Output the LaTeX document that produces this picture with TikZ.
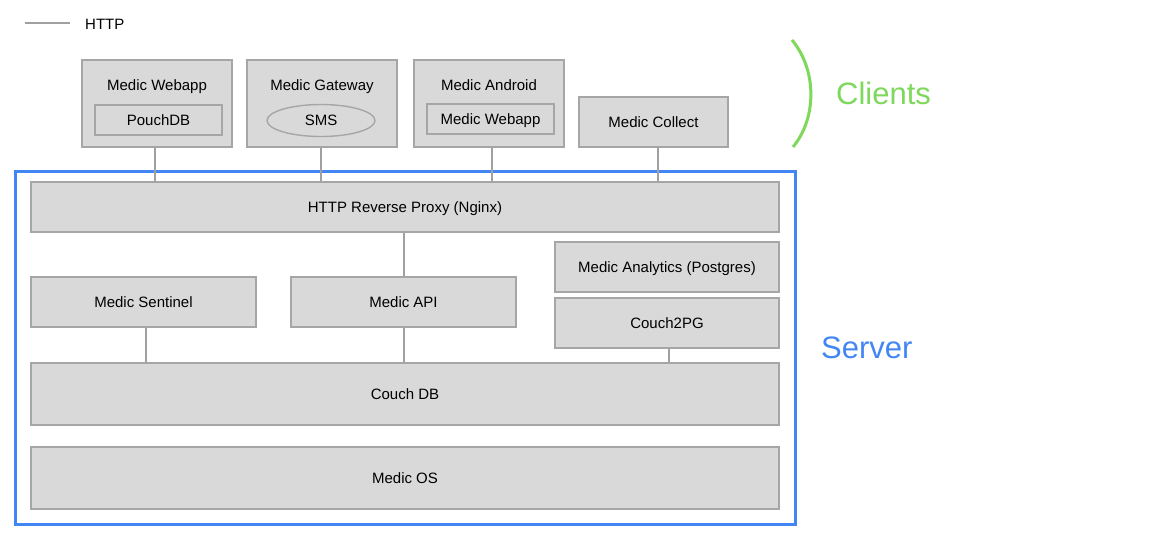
\documentclass[tikz,border=0pt]{standalone}
\usepackage{fontspec}
\setmainfont{Liberation Sans}
\usetikzlibrary{shapes.geometric}
\definecolor{boxfill}{RGB}{217,217,217}
\definecolor{boxline}{RGB}{166,166,166}
\definecolor{conn}{RGB}{160,160,160}
\definecolor{srvblue}{RGB}{66,133,244}
\definecolor{cligreen}{RGB}{126,216,92}
\begin{document}
\begin{tikzpicture}[x=1pt,y=-1pt,
  box/.style={draw=boxline,fill=boxfill,line width=1.4pt,font=\fontsize{15}{17}\selectfont,inner sep=0pt,text height=10.7pt,text depth=0pt},
  lbl/.style={font=\fontsize{15}{17}\selectfont,inner sep=0pt,text height=10.7pt,text depth=0pt},
  link/.style={draw=conn,line width=1.2pt}]
\useasboundingbox (0,0) rectangle (1153,550);
% legend
\coordinate (lg1) at (25,23);
\coordinate (lg2) at (70,23);
\draw[link] (lg1) -- (lg2);
\node[lbl,anchor=west] (http) at (85,24) {HTTP};
% server frame
\node[draw=srvblue,line width=3pt,minimum width=780pt,minimum height=353pt,inner sep=0pt] (server) at (405,347.5) {};
\node[font=\fontsize{31}{36}\selectfont,text=srvblue,anchor=west,inner sep=0pt,text height=22pt,text depth=0pt] (srvlbl) at (821,347) {Server};
% clients bracket
\coordinate (b1) at (792,40);
\coordinate (b2) at (793,147);
\draw[cligreen,line width=3pt] (b1) .. controls (817,70) and (817,118) .. (b2);
\node[font=\fontsize{31}{36}\selectfont,text=cligreen,anchor=west,inner sep=0pt,text height=22pt,text depth=0pt] (clilbl) at (836,93) {Clients};
% clients
\node[box,minimum width=150pt,minimum height=87pt] (webapp) at (157,103.5) {};
\node[lbl] at (157,85) {Medic Webapp};
\node[box,minimum width=127pt,minimum height=30pt] (pouch) at (158.5,120) {PouchDB};
\node[box,minimum width=150pt,minimum height=87pt] (gateway) at (322,103.5) {};
\node[lbl] at (322,85) {Medic Gateway};
\node[box,ellipse,minimum width=108pt,minimum height=32pt] (sms) at (321,120.5) {SMS};
\node[box,minimum width=150pt,minimum height=87pt] (android) at (489,103.5) {};
\node[lbl] at (489,85) {Medic Android};
\node[box,minimum width=127pt,minimum height=30pt] (awebapp) at (490.5,119) {Medic Webapp};
\node[box,minimum width=149pt,minimum height=50pt] (collect) at (653.5,122) {Medic Collect};
% server components
\node[box,minimum width=748pt,minimum height=50pt] (proxy) at (405,207) {HTTP Reverse Proxy (Nginx)};
\node[box,minimum width=224pt,minimum height=50pt] (analytics) at (667,267) {Medic Analytics (Postgres)};
\node[box,minimum width=224pt,minimum height=50pt] (c2pg) at (667,323) {Couch2PG};
\node[box,minimum width=225pt,minimum height=50pt] (sentinel) at (143.5,302) {Medic Sentinel};
\node[box,minimum width=225pt,minimum height=50pt] (api) at (403.5,302) {Medic API};
\node[box,minimum width=748pt,minimum height=62pt] (couch) at (405,394) {Couch DB};
\node[box,minimum width=748pt,minimum height=62pt] (os) at (405,478) {Medic OS};
% connectors
\draw[link] (webapp.south -| 155,0) -- (proxy.north -| 155,0);
\draw[link] (gateway.south -| 321,0) -- (proxy.north -| 321,0);
\draw[link] (android.south -| 492,0) -- (proxy.north -| 492,0);
\draw[link] (collect.south -| 658,0) -- (proxy.north -| 658,0);
\draw[link] (proxy.south -| 404,0) -- (api.north -| 404,0);
\draw[link] (sentinel.south -| 146,0) -- (couch.north -| 146,0);
\draw[link] (api.south -| 404,0) -- (couch.north -| 404,0);
\draw[link] (c2pg.south -| 669,0) -- (couch.north -| 669,0);
\end{tikzpicture}
\end{document}
